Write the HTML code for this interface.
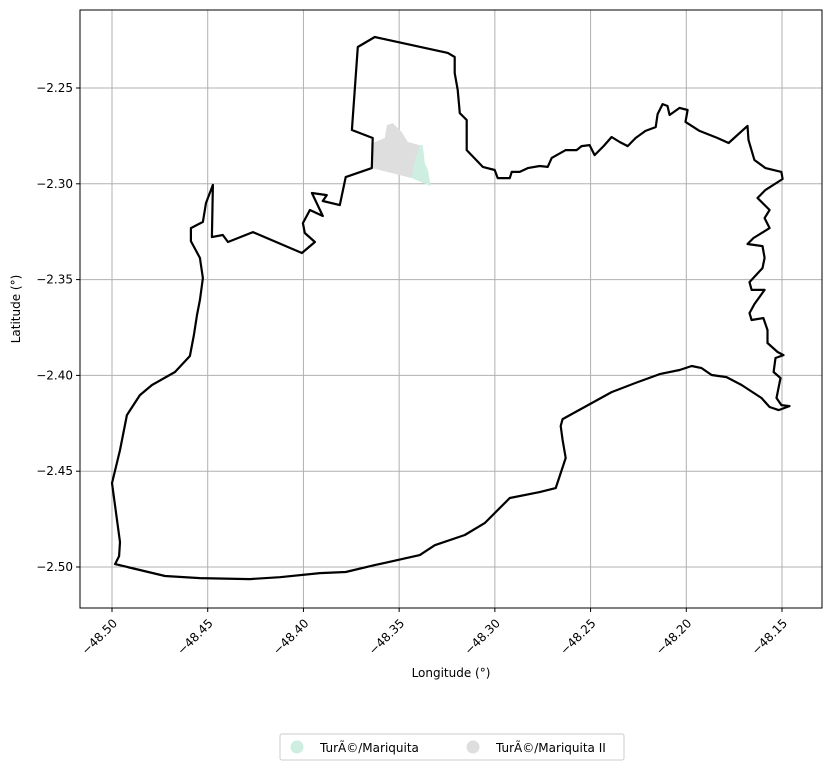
<!DOCTYPE html>
<html><head><meta charset="utf-8">
<style>
body{margin:0;background:#fff;font-family:"DejaVu Sans","Liberation Sans",sans-serif;}
svg{display:block}
</style></head>
<body>
<svg id="chart" width="832" height="770" xmlns="http://www.w3.org/2000/svg">
<g id="grid"></g>
<g id="areas"></g>
<g id="boundary"></g>
<rect x="80" y="10" width="742" height="598" fill="none" stroke="#000" stroke-width="1"/>
<g id="xticks"></g>
<g id="yticks"></g>
<text x="451" y="677" font-size="12" text-anchor="middle">Longitude (°)</text>
<text x="20" y="309" font-size="12" text-anchor="middle" transform="rotate(-90 20 309)">Latitude (°)</text>
<g>
<rect x="280" y="734" width="344" height="26" rx="2" fill="#fff" stroke="#ccc"/>
<circle cx="297" cy="747" r="6.5" fill="#cdeee0"/>
<text x="320" y="752" font-size="12">TurÃ©/Mariquita</text>
<circle cx="473" cy="747" r="6.5" fill="#dedede"/>
<text x="496" y="752" font-size="12">TurÃ©/Mariquita II</text>
</g>
</svg>
<script>
const xTicks=[-48.50,-48.45,-48.40,-48.35,-48.30,-48.25,-48.20,-48.15];
const yTicks=[-2.25,-2.30,-2.35,-2.40,-2.45,-2.50];
const boundaryLon=[-48.3716,-48.3627,-48.3246,-48.3210,-48.3210,-48.3194,-48.3183,-48.3147,-48.3147,-48.3063,-48.3001,-48.2985,-48.2922,-48.2912,-48.2870,-48.2828,-48.2766,-48.2724,-48.2703,-48.2630,-48.2573,-48.2547,-48.2505,-48.2479,-48.2432,-48.2390,-48.2348,-48.2306,-48.2265,-48.2213,-48.2160,-48.2150,-48.2124,-48.2098,-48.2087,-48.2035,-48.1993,-48.2004,-48.1931,-48.1837,-48.1779,-48.1680,-48.1675,-48.1644,-48.1586,-48.1503,-48.1497,-48.1586,-48.1628,-48.1565,-48.1591,-48.1565,-48.1649,-48.1680,-48.1602,-48.1591,-48.1602,-48.1670,-48.1659,-48.1591,-48.1644,-48.1670,-48.1659,-48.1597,-48.1576,-48.1576,-48.1523,-48.1492,-48.1534,-48.1544,-48.1508,-48.1529,-48.1503,-48.1461,-48.1518,-48.1565,-48.1607,-48.1711,-48.1790,-48.1868,-48.1920,-48.1972,-48.2035,-48.2139,-48.2254,-48.2390,-48.2646,-48.2656,-48.2646,-48.2630,-48.2682,-48.2766,-48.2922,-48.3053,-48.3157,-48.3314,-48.3392,-48.3627,-48.3779,-48.3914,-48.4123,-48.4280,-48.4541,-48.4723,-48.4984,-48.4963,-48.4958,-48.5000,-48.4958,-48.4922,-48.4854,-48.4791,-48.4671,-48.4593,-48.4572,-48.4556,-48.4541,-48.4525,-48.4541,-48.4588,-48.4588,-48.4525,-48.4509,-48.4473,-48.4478,-48.4421,-48.4394,-48.4264,-48.4008,-48.3940,-48.3993,-48.4003,-48.3966,-48.3899,-48.3956,-48.3878,-48.3899,-48.3810,-48.3779,-48.3643,-48.3638,-48.3747,-48.3716];
const boundaryLat=[-2.2286,-2.2234,-2.2317,-2.2338,-2.2422,-2.2510,-2.2631,-2.2667,-2.2824,-2.2912,-2.2928,-2.2970,-2.2970,-2.2938,-2.2938,-2.2918,-2.2907,-2.2912,-2.2865,-2.2824,-2.2824,-2.2803,-2.2798,-2.2850,-2.2803,-2.2756,-2.2782,-2.2803,-2.2761,-2.2724,-2.2704,-2.2636,-2.2584,-2.2594,-2.2641,-2.2604,-2.2615,-2.2677,-2.2724,-2.2761,-2.2787,-2.2698,-2.2771,-2.2876,-2.2918,-2.2938,-2.2975,-2.3032,-2.3074,-2.3137,-2.3179,-2.3231,-2.3283,-2.3314,-2.3325,-2.3387,-2.3440,-2.3513,-2.3554,-2.3554,-2.3628,-2.3675,-2.3711,-2.3701,-2.3763,-2.3831,-2.3878,-2.3894,-2.3909,-2.3982,-2.4014,-2.4118,-2.4155,-2.4160,-2.4181,-2.4165,-2.4118,-2.4050,-2.4009,-2.3998,-2.3962,-2.3951,-2.3972,-2.3993,-2.4035,-2.4087,-2.4228,-2.4264,-2.4337,-2.4431,-2.4588,-2.4609,-2.4640,-2.4771,-2.4833,-2.4886,-2.4938,-2.4990,-2.5026,-2.5032,-2.5053,-2.5063,-2.5058,-2.5047,-2.4985,-2.4943,-2.4870,-2.4562,-2.4390,-2.4207,-2.4103,-2.4050,-2.3982,-2.3899,-2.3789,-2.3685,-2.3607,-2.3492,-2.3387,-2.3299,-2.3231,-2.3199,-2.3100,-2.3006,-2.3278,-2.3267,-2.3304,-2.3252,-2.3361,-2.3304,-2.3257,-2.3205,-2.3137,-2.3168,-2.3048,-2.3059,-2.3090,-2.3111,-2.2965,-2.2918,-2.2761,-2.2719,-2.2286];
const area2Lon=[-48.3643,-48.3638,-48.3575,-48.3564,-48.3533,-48.3486,-48.3455,-48.3392,-48.3434];
const area2Lat=[-2.2918,-2.2787,-2.2761,-2.2693,-2.2683,-2.2730,-2.2782,-2.2798,-2.2970];
const area1Lon=[-48.3392,-48.3377,-48.3366,-48.3350,-48.3335,-48.3434,-48.3424];
const area1Lat=[-2.2798,-2.2798,-2.2892,-2.2928,-2.3012,-2.2970,-2.2902];

const NS="http://www.w3.org/2000/svg";
function xs(lon){return 112+(lon+48.5)*1914.3;}
function ys(lat){return 88+(-2.25-lat)*1916;}
function mk(tag,attrs,parent){const e=document.createElementNS(NS,tag);for(const k in attrs)e.setAttribute(k,attrs[k]);parent.appendChild(e);return e;}
function pts(lo,la){return lo.map((v,i)=>xs(v).toFixed(1)+','+ys(la[i]).toFixed(1)).join(' ');}

const grid=document.getElementById('grid'),xg=document.getElementById('xticks'),yg=document.getElementById('yticks');
xTicks.forEach(t=>{const x=xs(t);
 const l=mk('line',{x1:x,x2:x,y1:10,y2:608,stroke:'#b0b0b0','stroke-width':1},grid);
 
 
 const tk=mk('line',{x1:x,x2:x,y1:608,y2:612,stroke:'#000'},xg);
 
 
 const tx=mk('text',{x:x+6,y:624,'font-size':12,'text-anchor':'end',transform:`rotate(-45 ${x+6} 624)`},xg);
 tx.textContent='\u2212'+Math.abs(t).toFixed(2);
 
 
});
yTicks.forEach(t=>{const y=ys(t);
 const l=mk('line',{x1:80,x2:822,y1:y,y2:y,stroke:'#b0b0b0','stroke-width':1},grid);
 
 
 const tk=mk('line',{x1:76,x2:80,y1:y,y2:y,stroke:'#000'},yg);
 
 
 const tx=mk('text',{x:73,y:y+4,'font-size':12,'text-anchor':'end'},yg);
 tx.textContent='\u2212'+Math.abs(t).toFixed(2);
 
 
});
const areas=document.getElementById('areas');
const a2=mk('polygon',{points:pts(area2Lon,area2Lat),fill:'#dedede'},areas);


const a1=mk('polygon',{points:pts(area1Lon,area1Lat),fill:'#cdeee0'},areas);


const b=mk('polygon',{points:pts(boundaryLon,boundaryLat),fill:'none',stroke:'#000','stroke-width':2.2,'stroke-linejoin':'round'},document.getElementById('boundary'));


</script>
</body></html>
